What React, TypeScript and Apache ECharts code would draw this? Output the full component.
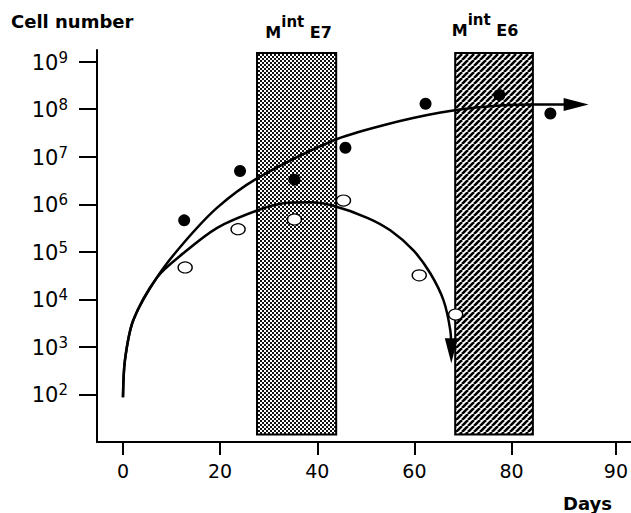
import React, { useEffect, useRef } from "react";
import * as echarts from "echarts";

// ---- data ----
const filledDays = [12.6, 24.1, 35.3, 45.8, 62.3, 77.5, 88.0];
const filledCells = [4.6e5, 5.0e6, 3.3e6, 1.55e7, 1.3e8, 2.0e8, 8.1e7];

const openDays = [12.8, 23.7, 35.3, 45.4, 61.0, 68.5];
const openCells = [4.7e4, 3.0e5, 4.8e5, 1.2e6, 3.2e4, 4.8e3];

const upperCurveDays = [0, 0.4, 2.1, 7.0, 12.4, 19.4, 27.6, 43.3, 53.6, 65.4, 75.7, 84.5, 93.3];
const upperCurveCells = [87, 5.2e2, 3.6e3, 2.9e4, 1.5e5, 8.5e5, 3.5e6, 2.2e7, 4.6e7, 8.5e7, 1.15e8, 1.26e8, 1.26e8];

const lowerCurveDays = [0, 0.4, 2.1, 7.0, 12.4, 19.4, 27.6, 33.0, 38.6, 43.3, 50.3, 55.1, 59.8, 63.3, 66.0, 67.4, 67.6];
const lowerCurveCells = [87, 5.2e2, 3.6e3, 2.9e4, 9.3e4, 3.2e5, 7.4e5, 1.05e6, 1.1e6, 9.3e5, 5.2e5, 2.8e5, 1.07e5, 3.5e4, 9.5e3, 2.2e3, 8.3e2];

const boxNames = ["E7", "E6"];
const boxStartDays = [27.6, 68.4];
const boxEndDays = [43.9, 84.4];
const boxBottomCells = 14.4;
const boxTopCells = 1.52e9;

const xTickDays = [0, 20, 40, 60, 80, 101.5];
const xTickLabels = ["0", "20", "40", "60", "80", "90"];
const yTickCells = [1e2, 1e3, 1e4, 1e5, 1e6, 1e7, 1e8, 1e9];

const xMin = -5.35;
const xMax = 104.6;
const yMin = 10;
const yMax = 1.76e9;

const FONT = "DejaVu Sans";

function makeStipple(): HTMLCanvasElement {
  const c = document.createElement("canvas");
  c.width = 4;
  c.height = 4;
  const g = c.getContext("2d")!;
  g.fillStyle = "#fff";
  g.fillRect(0, 0, 4, 4);
  g.fillStyle = "#111";
  g.fillRect(0, 0, 2, 2);
  g.fillRect(2, 2, 2, 2);
  return c;
}

function makeHatch(): HTMLCanvasElement {
  const c = document.createElement("canvas");
  c.width = 6;
  c.height = 6;
  const g = c.getContext("2d")!;
  g.fillStyle = "#fff";
  g.fillRect(0, 0, 6, 6);
  g.strokeStyle = "#000";
  g.lineWidth = 2.6;
  for (const k of [-6, 0, 6]) {
    g.beginPath();
    g.moveTo(k, 6);
    g.lineTo(k + 6, 0);
    g.stroke();
  }
  return c;
}

export default function App() {
  const ref = useRef<HTMLDivElement>(null);

  useEffect(() => {
    if (!ref.current) return;
    const chart = echarts.init(ref.current, undefined, { renderer: "svg" });

    const patterns = [makeStipple(), makeHatch()];

    const upper = upperCurveDays.map((d, i) => [d, upperCurveCells[i]]);
    const lower = lowerCurveDays.map((d, i) => [d, lowerCurveCells[i]]);
    const upperEnd = upper[upper.length - 1];
    const lowerEnd = lower[lower.length - 1];

    const areas = boxNames.map((name, i) => [
      {
        name,
        xAxis: boxStartDays[i],
        yAxis: boxBottomCells,
        itemStyle: {
          color: {
            image: patterns[i],
            repeat: "repeat",
            imageWidth: patterns[i].width,
            imageHeight: patterns[i].height,
          },
          borderColor: "#000",
          borderWidth: 2,
          opacity: 1,
        },
        label: { offset: i === 1 ? [-9, -2] : [2, 0] },
      },
      { xAxis: boxEndDays[i], yAxis: boxTopCells },
    ]);

    const option: any = {
      animation: false,
      backgroundColor: "#fff",
      title: [
        {
          text: "Cell number",
          left: 11,
          top: 12,
          padding: 0,
          textStyle: { fontFamily: FONT, fontSize: 18, fontWeight: "bold", color: "#000" },
        },
        {
          text: "Days",
          left: 563,
          top: 494,
          padding: 0,
          textStyle: { fontFamily: FONT, fontSize: 18, fontWeight: "bold", color: "#000" },
        },
      ],
      grid: { left: 97, right: 0, top: 50, bottom: 71, containLabel: false, outerBoundsMode: "none" },
      xAxis: {
        type: "value",
        min: xMin,
        max: xMax,
        splitLine: { show: false },
        axisLine: { show: true, lineStyle: { color: "#000", width: 2 } },
        axisTick: {
          show: true,
          customValues: xTickDays,
          length: 13,
          lineStyle: { color: "#000", width: 2 },
        },
        axisLabel: {
          customValues: xTickDays,
          margin: 19,
          fontFamily: FONT,
          fontSize: 19,
          color: "#000",
          formatter: (v: number) => {
            let best = 0;
            xTickDays.forEach((t, i) => {
              if (Math.abs(t - v) < Math.abs(xTickDays[best] - v)) best = i;
            });
            return xTickLabels[best];
          },
        },
      },
      yAxis: {
        type: "log",
        logBase: 10,
        min: yMin,
        max: yMax,
        splitLine: { show: false },
        axisLine: { show: true, onZero: false, lineStyle: { color: "#000", width: 2 } },
        axisTick: {
          show: true,
          customValues: yTickCells,
          length: 18,
          lineStyle: { color: "#000", width: 2 },
        },
        axisLabel: {
          customValues: yTickCells,
          margin: 29,
          color: "#000",
          formatter: (v: number) => `{b|10}{s|${Math.round(Math.log10(v))}}`,
          rich: {
            b: { fontFamily: FONT, fontSize: 21, lineHeight: 23, verticalAlign: "bottom", color: "#000" },
            s: { fontFamily: FONT, fontSize: 15, lineHeight: 15, verticalAlign: "top", color: "#000" },
          },
        },
      },
      series: [
        {
          type: "line",
          name: "boxes",
          data: [],
          markArea: {
            silent: true,
            z: 1,
            label: {
              show: true,
              position: "top",
              distance: 12,
              color: "#000",
              formatter: (p: any) => `{m|M}{s|int}{m| ${p.name}}`,
              rich: {
                m: { fontFamily: FONT, fontSize: 16, fontWeight: "bold", lineHeight: 26, verticalAlign: "bottom", color: "#000" },
                s: { fontFamily: FONT, fontSize: 15, fontWeight: "bold", lineHeight: 16, verticalAlign: "top", color: "#000" },
              },
            },
            data: areas,
          },
        },
        {
          type: "line",
          name: "upper",
          data: upper,
          smooth: 0.3,
          showSymbol: false,
          z: 3,
          lineStyle: { color: "#000", width: 2.5 },
        },
        {
          type: "line",
          name: "lower",
          data: lower,
          smooth: 0.3,
          showSymbol: false,
          z: 3,
          lineStyle: { color: "#000", width: 2.5 },
        },
        {
          type: "scatter",
          name: "arrows",
          z: 4,
          data: [
            { value: upperEnd, symbolRotate: -90 },
            { value: lowerEnd, symbolRotate: 180 },
          ],
          symbol: "triangle",
          symbolSize: [13, 25],
          itemStyle: { color: "#000", opacity: 1 },
        },
        {
          type: "scatter",
          name: "filled",
          z: 5,
          data: filledDays.map((d, i) => [d, filledCells[i]]),
          symbol: "circle",
          symbolSize: 12,
          itemStyle: { color: "#000", opacity: 1 },
        },
        {
          type: "scatter",
          name: "open",
          z: 5,
          data: openDays.map((d, i) => [d, openCells[i]]),
          symbol: "circle",
          symbolSize: [14, 11],
          itemStyle: { color: "#fff", borderColor: "#000", borderWidth: 1.3, opacity: 1 },
        },
      ],
    };

    chart.setOption(option);
    return () => chart.dispose();
  }, []);

  return (
    <div
      ref={ref}
      style={{ position: "fixed", left: 0, top: 0, width: 631, height: 513, background: "#fff" }}
    />
  );
}
